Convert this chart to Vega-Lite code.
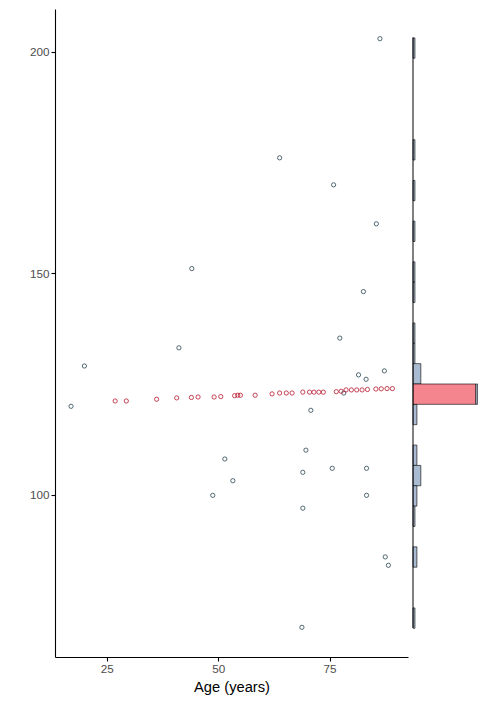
{
  "$schema": "https://vega.github.io/schema/vega-lite/v6.json",
  "padding": {"left": 29, "top": 9, "right": 0, "bottom": 0},
  "background": "white",
  "config": {
    "view": {"stroke": null},
    "font": "Liberation Sans",
    "axis": {
      "grid": false,
      "domainColor": "black",
      "domainWidth": 1.1,
      "tickColor": "black",
      "tickWidth": 1.1,
      "tickSize": 4,
      "labelPadding": 2,
      "labelColor": "#4D4D4D",
      "labelFontSize": 11.7,
      "labelFont": "Liberation Sans",
      "titleFont": "Liberation Sans",
      "titleFontSize": 14.7,
      "titleFontWeight": "normal",
      "titleColor": "black"
    }
  },
  "datasets": {
    "pts": [
      {"age": 86.3, "bp": 203.0, "group": "Observed"},
      {"age": 63.8, "bp": 176.1, "group": "Observed"},
      {"age": 75.9, "bp": 170.0, "group": "Observed"},
      {"age": 85.5, "bp": 161.2, "group": "Observed"},
      {"age": 44.1, "bp": 151.1, "group": "Observed"},
      {"age": 82.6, "bp": 145.9, "group": "Observed"},
      {"age": 77.3, "bp": 135.4, "group": "Observed"},
      {"age": 41.2, "bp": 133.2, "group": "Observed"},
      {"age": 20.0, "bp": 129.1, "group": "Observed"},
      {"age": 87.3, "bp": 128.0, "group": "Observed"},
      {"age": 81.5, "bp": 127.1, "group": "Observed"},
      {"age": 83.2, "bp": 126.1, "group": "Observed"},
      {"age": 78.2, "bp": 123.0, "group": "Observed"},
      {"age": 70.8, "bp": 119.1, "group": "Observed"},
      {"age": 17.0, "bp": 120.0, "group": "Observed"},
      {"age": 69.7, "bp": 110.1, "group": "Observed"},
      {"age": 51.5, "bp": 108.1, "group": "Observed"},
      {"age": 69.0, "bp": 105.1, "group": "Observed"},
      {"age": 75.6, "bp": 106.0, "group": "Observed"},
      {"age": 83.3, "bp": 106.0, "group": "Observed"},
      {"age": 53.3, "bp": 103.2, "group": "Observed"},
      {"age": 48.8, "bp": 99.9, "group": "Observed"},
      {"age": 83.3, "bp": 99.9, "group": "Observed"},
      {"age": 69.0, "bp": 97.0, "group": "Observed"},
      {"age": 87.5, "bp": 86.0, "group": "Observed"},
      {"age": 88.2, "bp": 84.1, "group": "Observed"},
      {"age": 68.8, "bp": 70.1, "group": "Observed"},
      {"age": 26.9, "bp": 121.2, "group": "Imputed"},
      {"age": 29.4, "bp": 121.2, "group": "Imputed"},
      {"age": 36.2, "bp": 121.6, "group": "Imputed"},
      {"age": 40.7, "bp": 121.9, "group": "Imputed"},
      {"age": 44.0, "bp": 122.0, "group": "Imputed"},
      {"age": 45.5, "bp": 122.1, "group": "Imputed"},
      {"age": 49.1, "bp": 122.1, "group": "Imputed"},
      {"age": 50.6, "bp": 122.2, "group": "Imputed"},
      {"age": 53.7, "bp": 122.4, "group": "Imputed"},
      {"age": 54.4, "bp": 122.5, "group": "Imputed"},
      {"age": 55.0, "bp": 122.5, "group": "Imputed"},
      {"age": 58.3, "bp": 122.5, "group": "Imputed"},
      {"age": 62.1, "bp": 122.8, "group": "Imputed"},
      {"age": 63.8, "bp": 123.0, "group": "Imputed"},
      {"age": 65.3, "bp": 123.0, "group": "Imputed"},
      {"age": 66.6, "bp": 123.0, "group": "Imputed"},
      {"age": 69.0, "bp": 123.2, "group": "Imputed"},
      {"age": 70.5, "bp": 123.2, "group": "Imputed"},
      {"age": 71.5, "bp": 123.2, "group": "Imputed"},
      {"age": 72.6, "bp": 123.2, "group": "Imputed"},
      {"age": 73.6, "bp": 123.2, "group": "Imputed"},
      {"age": 76.5, "bp": 123.3, "group": "Imputed"},
      {"age": 77.6, "bp": 123.4, "group": "Imputed"},
      {"age": 78.7, "bp": 123.7, "group": "Imputed"},
      {"age": 79.9, "bp": 123.7, "group": "Imputed"},
      {"age": 81.1, "bp": 123.7, "group": "Imputed"},
      {"age": 82.3, "bp": 123.7, "group": "Imputed"},
      {"age": 83.5, "bp": 123.8, "group": "Imputed"},
      {"age": 85.4, "bp": 123.9, "group": "Imputed"},
      {"age": 86.6, "bp": 123.95, "group": "Imputed"},
      {"age": 87.9, "bp": 124.0, "group": "Imputed"},
      {"age": 89.1, "bp": 124.0, "group": "Imputed"}
    ]
  },
  "data": {"name": "pts"},
  "spacing": 4,
  "hconcat": [
    {
      "width": 353,
      "height": 648,
      "mark": {"type": "point", "filled": false, "size": 18, "strokeWidth": 0.8, "opacity": 1},
      "encoding": {
        "x": {
          "field": "age", "type": "quantitative", "title": "Age (years)",
          "scale": {"domain": [13.4, 92.6], "nice": false, "zero": false},
          "axis": {"values": [25, 50, 75], "titlePadding": 5}
        },
        "y": {
          "field": "bp", "type": "quantitative", "title": null,
          "scale": {"domain": [63.4, 209.7], "nice": false, "zero": false},
          "axis": {"values": [100, 150, 200]}
        },
        "stroke": {
          "field": "group", "type": "nominal", "legend": null,
          "scale": {"domain": ["Observed", "Imputed"], "range": ["#2B4552", "#B8182E"]}
        }
      }
    },
    {
      "width": 65,
      "height": 648,
      "layer": [
        {
          "mark": {"type": "bar", "stroke": "black", "strokeWidth": 0.6, "binSpacing": 0},
          "encoding": {
            "y": {
              "field": "bp", "type": "quantitative",
              "bin": {"extent": [70, 203.3], "step": 4.596, "nice": false},
              "scale": {"domain": [63.4, 209.7], "nice": false, "zero": false},
              "axis": null
            },
            "x": {
              "aggregate": "count", "type": "quantitative",
              "scale": {"domain": [0, 33.2], "nice": false},
              "axis": null
            },
            "fill": {
              "field": "group", "type": "nominal", "legend": null,
              "scale": {"domain": ["Imputed", "Observed"], "range": ["#F4858E", "#A8BBD0"]}
            },
            "order": {"field": "group", "sort": "ascending"}
          }
        },
        {
          "data": {"values": [{}]},
          "mark": {"type": "rule", "stroke": "black", "strokeWidth": 1},
          "encoding": {
            "x": {"datum": 0},
            "y": {"datum": 70},
            "y2": {"datum": 203.3}
          }
        }
      ]
    }
  ]
}
